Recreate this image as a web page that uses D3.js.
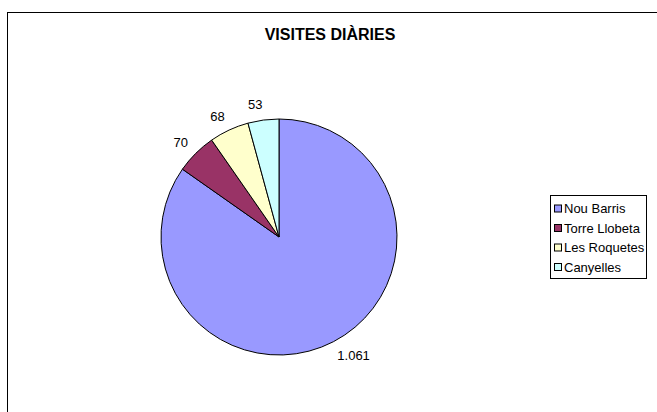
<!DOCTYPE html>
<html>
<head>
<meta charset="utf-8">
<script src="https://cdnjs.cloudflare.com/ajax/libs/d3/7.8.5/d3.min.js"></script>
<style>
  body { margin: 0; background: #fff; }
  svg { display: block; font-family: "Liberation Sans", Arial, sans-serif; }
</style>
</head>
<body>
<script>
// dades
var categories = ["Nou Barris", "Torre Llobeta", "Les Roquetes", "Canyelles"];
var values = [1061, 70, 68, 53];
var labels = ["1.061", "70", "68", "53"];
var colors = ["#9999ff", "#993366", "#ffffcc", "#ccffff"];
var title = "VISITES DIÀRIES";

var w = 657, h = 412,
    cx = 279, cy = 237, r = 118;

var svg = d3.select("body").append("svg")
    .attr("width", w)
    .attr("height", h);

// chart area border (runs off right and bottom)
svg.append("rect")
    .attr("x", 7.5).attr("y", 12.5)
    .attr("width", 700).attr("height", 500)
    .attr("fill", "#fff")
    .attr("stroke", "#000")
    .attr("stroke-width", 1);

svg.append("text")
    .attr("x", 330).attr("y", 40)
    .attr("text-anchor", "middle")
    .style("font-size", "16px")
    .style("font-weight", "bold")
    .text(title);

var pie = d3.pie().sort(null).value(function(d) { return d; });
var arcs = pie(values);
var arc = d3.arc().innerRadius(0).outerRadius(r);

var g = svg.append("g").attr("transform", "translate(" + cx + "," + cy + ")");

g.selectAll("path")
    .data(arcs)
    .enter().append("path")
    .attr("d", arc)
    .attr("fill", function(d, i) { return colors[i]; })
    .attr("stroke", "#000")
    .attr("stroke-width", 1);

// labels outside the slice, pushed out by part of the text box
var labelR = r + 12;
g.selectAll("text.lbl")
    .data(arcs)
    .enter().append("text")
    .attr("class", "lbl")
    .style("font-size", "13px")
    .attr("text-anchor", "middle")
    .attr("dy", "0.35em")
    .text(function(d, i) { return labels[i]; })
    .each(function(d) {
        var a = (d.startAngle + d.endAngle) / 2,
            bw = this.getComputedTextLength(),
            sx = Math.sin(a), sy = -Math.cos(a);
        d3.select(this)
            .attr("x", sx * labelR + Math.sign(sx) * bw / 2 * 0.9)
            .attr("y", sy * labelR + sy * 3.5);
    });

// legend
var lx = 550, ly = 195, lw = 96, lh = 83, rowH = 19.5;
var leg = svg.append("g");
leg.append("rect")
    .attr("x", lx + 0.5).attr("y", ly + 0.5)
    .attr("width", lw).attr("height", lh)
    .attr("fill", "#fff")
    .attr("stroke", "#000");

var items = leg.selectAll("g.item")
    .data(categories)
    .enter().append("g")
    .attr("class", "item")
    .attr("transform", function(d, i) { return "translate(" + (lx + 4) + "," + (ly + 13.5 + i * rowH) + ")"; });

items.append("rect")
    .attr("x", 0.5).attr("y", -3.5)
    .attr("width", 7).attr("height", 7)
    .attr("fill", function(d, i) { return colors[i]; })
    .attr("stroke", "#000");

items.append("text")
    .attr("x", 10).attr("y", 0)
    .attr("dy", "0.35em")
    .style("font-size", "13px")
    .text(function(d) { return d; });
</script>
</body>
</html>
